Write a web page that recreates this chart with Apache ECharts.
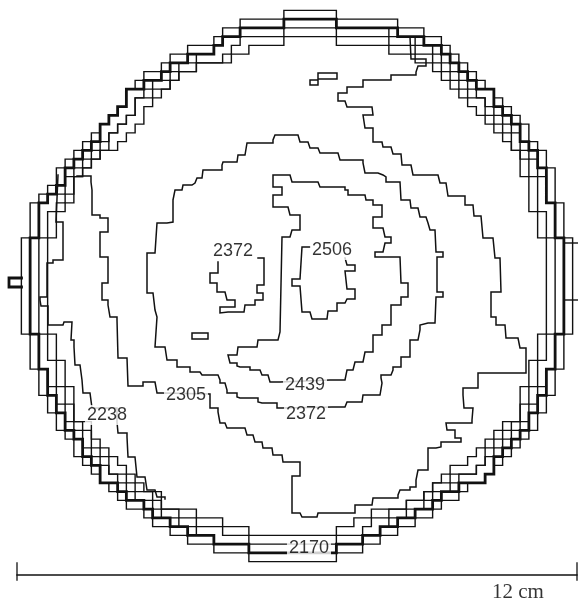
<!DOCTYPE html>
<html>
<head>
<meta charset="utf-8">
<script src="https://cdn.jsdelivr.net/npm/echarts@6/dist/echarts.min.js"></script>
<style>
  html, body { margin: 0; padding: 0; background: #fff; }
  #chart { width: 578px; height: 603px; }
</style>
</head>
<body>
<div id="chart"></div>
<script>
// ---- Map data (map units: the 12 cm scale bar spans 56 units) ----

// Contour levels drawn on the map
const levels = [2170, 2238, 2305, 2372, 2439, 2506];

// Rim of the field: half-widths (in detector cells) left / right of the centre, one entry per cell row, top row first
const rimLeft = [1.5, 6.5, 8.5, 9.5, 12.5, 14.5, 15.5, 17.5, 18.5, 19.5, 19.5, 20.5, 21.5, 22.5, 23.5, 24.5,
  25.5, 26.5, 27.5, 27.5, 28.5, 29.5, 30.5, 30.5, 30.5, 30.5, 31.5, 31.5, 31.5, 31.5, 31.5, 31.5,
  31.5, 31.5, 31.5, 31.5, 31.5, 30.5, 30.5, 30.5, 30.5, 29.5, 29.5, 29.5, 28.5, 28.5, 27.5, 27.5,
  26.5, 25.5, 25.5, 24.5, 23.5, 22.5, 21.5, 20.5, 19.5, 17.5, 16.5, 14.5, 12.5, 9.5, 5.5];
const rimRight = [4.5, 11.5, 14.5, 16.5, 17.5, 18.5, 19.5, 20.5, 21.5, 22.5, 23.5, 24.5, 25.5, 26.5, 26.5, 27.5,
  28.5, 28.5, 29.5, 29.5, 29.5, 29.5, 30.5, 30.5, 30.5, 30.5, 31.5, 31.5, 31.5, 31.5, 31.5, 31.5,
  31.5, 31.5, 31.5, 31.5, 31.5, 30.5, 30.5, 30.5, 30.5, 29.5, 29.5, 29.5, 28.5, 28.5, 27.5, 27.5,
  26.5, 25.5, 24.5, 23.5, 22.5, 21.5, 19.5, 18.5, 16.5, 15.5, 13.5, 11.5, 9.5, 7.5, 4.5];
// The rim contours, each the rim shrunk by this factor and laid back on the cell grid; the second is the 2170 contour
const rimScale = [1, 0.978, 0.956, 0.934, 0.912];
const rimLevel = [null, 2170, null, null, null];
// Small rim features
const rimNub = [[0.45, 27.8], [-0.8, 27.8], [-0.8, 28.7], [0.45, 28.7]];
const rimTicks = [[[54.8, 24.3], [56.1, 24.3]], [[54.8, 30.0], [56.1, 30.0]]];

// Interior contours, traced as vertex lists [x, y]
const contour2238 = [[4.1, 17.5], [3.9, 22.2], [4.6, 23.6], [4.6, 26.0], [3.6, 26.3], [3.0, 26.7], [3.0, 29.7],
  [2.3, 30.0], [2.4, 30.6], [3.1, 30.8], [3.1, 32.5], [4.6, 32.7], [4.7, 32.2], [5.5, 32.3], [5.4, 34.0],
  [5.7, 34.7], [5.8, 36.5], [6.3, 36.7], [6.5, 38.0], [6.6, 39.3], [7.3, 39.5], [7.5, 40.8], [10.0, 42.2],
  [10.1, 43.3], [11.0, 43.7], [11.1, 45.7], [11.8, 45.8], [12.0, 47.7], [12.8, 47.7], [13.0, 49.0],
  [13.8, 49.2], [14.0, 49.7], [14.8, 49.9]];

const contour2305 = [[6.0, 17.6], [7.4, 18.2], [7.5, 19.0], [7.5, 21.5], [8.3, 21.8], [9.1, 22.3], [9.1, 23.2],
  [8.3, 23.3], [8.3, 25.7], [9.1, 25.8], [9.1, 28.3], [8.5, 28.5], [8.5, 30.0], [9.1, 30.5], [9.3, 31.7],
  [10.0, 32.0], [10.1, 35.8], [11.0, 36.0], [11.1, 38.6], [12.6, 38.6], [12.6, 38.2], [13.8, 38.2],
  [14.0, 39.3], [14.5, 39.4],
  [19.3, 40.8], [20.1, 41.2], [20.3, 42.3], [20.8, 42.3], [21.0, 42.8], [22.8, 43.0], [23.0, 43.5],
  [23.6, 43.7], [23.8, 44.2], [24.5, 44.3], [24.6, 44.8], [25.5, 45.0], [25.6, 45.5], [26.5, 45.7],
  [26.6, 46.2], [28.3, 46.3], [28.3, 47.6], [27.5, 47.7], [27.5, 51.3], [28.3, 51.3], [28.5, 51.7],
  [30.0, 51.7], [30.1, 51.3], [33.8, 51.0], [33.8, 50.5], [35.5, 50.3], [35.6, 49.8], [36.1, 49.8],
  [38.1, 49.5], [38.3, 49.0], [39.3, 48.7], [39.9, 48.0], [40.1, 47.0], [41.1, 46.8], [41.1, 44.8],
  [41.9, 44.7], [42.4, 44.2], [44.4, 43.8], [43.8, 43.0], [43.0, 42.8], [42.9, 42.3], [45.5, 42.0],
  [45.6, 40.8], [44.7, 40.7], [44.6, 39.5], [44.6, 38.8], [46.1, 38.6], [46.1, 37.3], [50.9, 37.2],
  [50.9, 34.8], [50.3, 34.7], [50.1, 33.8], [48.9, 33.7], [48.8, 32.5], [47.9, 32.3], [47.9, 31.7],
  [47.4, 31.3], [47.4, 29.2], [48.4, 29.0], [48.3, 25.8], [47.8, 25.7], [47.6, 23.8], [46.6, 23.7],
  [46.4, 21.6], [45.7, 21.5], [45.6, 20.5], [44.8, 20.3], [44.8, 19.6], [43.1, 19.7], [42.9, 18.3],
  [42.3, 18.2], [42.1, 17.5], [39.6, 17.3], [39.4, 16.5], [38.5, 16.3], [38.4, 15.4], [37.6, 15.3],
  [37.4, 14.7], [36.6, 14.7], [36.5, 14.2], [35.6, 13.7], [35.6, 12.8], [34.8, 12.7], [34.6, 11.5],
  [35.6, 11.3], [35.5, 10.7], [33.0, 10.7], [32.8, 10.1], [32.1, 10.0], [32.1, 9.3], [33.0, 8.7],
  [34.6, 8.0], [36.1, 8.0], [37.4, 7.5], [39.9, 7.2], [40.1, 6.6], [40.9, 6.5], [40.9, 5.9], [39.4, 5.7],
  [39.3, 3.7]];

const contour2372 = [[15.6, 20.0], [15.8, 19.0], [16.5, 18.8], [16.6, 18.5], [17.5, 18.3], [17.8, 18.2],
  [18.0, 17.8], [18.5, 17.7], [18.6, 17.0], [20.5, 16.5], [20.6, 16.2], [22.0, 16.0], [22.1, 15.5],
  [22.8, 15.3], [23.0, 14.3], [25.6, 14.0], [25.8, 13.5], [28.1, 13.5], [28.3, 14.2], [29.1, 14.3],
  [29.3, 14.8], [30.1, 14.9], [30.3, 15.3], [32.1, 15.5], [32.3, 16.0], [34.6, 16.3], [34.8, 17.3],
  [36.1, 17.5], [36.6, 17.7], [36.9, 18.2], [38.3, 18.3], [38.4, 20.0], [39.3, 20.2], [39.4, 20.8],
  [40.1, 21.0], [40.3, 21.7], [40.9, 21.7], [41.1, 22.3], [41.3, 23.0], [41.8, 23.2], [41.9, 25.2],
  [42.6, 25.2], [42.6, 25.7], [42.0, 25.8], [42.0, 29.2], [42.6, 29.3], [42.6, 29.7], [41.9, 29.8],
  [41.8, 32.3], [41.1, 32.5], [40.3, 33.0], [40.1, 34.0], [39.3, 34.3], [39.3, 35.7], [38.4, 36.0],
  [38.4, 36.7], [37.6, 37.0], [37.4, 37.5], [36.4, 37.8], [36.5, 38.3], [36.3, 39.5], [34.6, 39.5],
  [34.5, 40.2], [33.0, 40.3], [32.8, 40.7], [31.5, 40.8], [26.5, 40.8], [26.0, 40.3], [24.5, 40.2],
  [24.1, 39.8], [22.3, 39.7], [22.0, 39.3], [21.0, 39.0], [20.8, 38.3], [20.3, 38.0], [20.1, 37.5],
  [18.5, 37.5], [18.3, 37.2], [17.3, 36.7], [16.5, 36.7], [16.0, 36.0], [15.0, 35.8], [14.8, 34.7],
  [13.8, 34.5], [14.0, 31.7], [13.8, 31.0], [13.6, 29.3], [13.0, 25.3], [13.8, 25.2], [14.0, 22.3],
  [15.0, 22.2], [15.6, 20.0]];

const contour2439 = [[25.6, 17.5], [27.3, 17.5], [27.5, 18.2], [30.1, 18.3], [30.3, 18.7], [32.8, 19.0],
  [33.1, 19.5], [34.8, 19.6], [34.9, 20.0], [35.6, 20.1], [35.6, 20.5], [36.5, 20.5], [36.5, 21.7],
  [35.6, 21.8], [35.6, 22.8], [36.6, 23.0], [36.8, 23.7], [37.4, 23.8], [37.4, 24.3], [36.8, 24.5],
  [36.6, 25.2], [35.8, 25.2], [35.8, 25.7], [38.3, 25.7], [38.4, 28.3], [39.1, 28.5], [39.1, 29.7],
  [38.4, 29.8], [38.4, 30.5], [37.4, 30.7], [37.4, 32.5], [36.5, 32.7], [36.5, 33.5], [35.6, 33.7],
  [35.6, 35.2], [34.8, 35.3], [34.6, 36.2], [33.8, 36.3], [33.6, 37.0], [33.0, 37.2], [32.8, 38.0],
  [31.3, 38.2], [26.3, 38.2], [25.3, 38.0], [25.1, 37.5], [24.5, 37.3], [24.3, 37.0], [23.3, 36.7],
  [22.3, 36.6], [22.0, 36.3], [21.3, 36.2], [21.1, 35.5], [22.0, 35.3], [22.1, 34.7], [24.0, 34.5],
  [24.1, 34.0], [26.1, 33.8], [26.3, 33.2], [26.5, 23.7], [27.3, 23.5], [27.5, 23.0], [28.3, 22.8],
  [28.3, 21.5], [27.3, 21.3], [27.1, 20.7], [25.6, 20.6], [25.6, 19.5], [26.5, 19.4], [26.5, 18.7],
  [25.6, 18.6], [25.6, 17.5]];

const contour2506 = [[32.8, 25.8], [33.0, 26.5], [33.8, 26.6], [33.8, 27.1], [32.8, 27.2], [33.0, 28.9],
  [33.8, 29.0], [33.8, 29.9], [33.0, 30.0], [32.8, 30.3], [32.0, 30.5], [32.0, 31.1], [31.1, 31.2],
  [31.0, 31.9], [29.5, 31.8], [29.3, 31.2], [28.5, 31.0], [28.3, 28.6], [27.5, 28.5], [27.5, 27.9],
  [28.3, 27.8], [28.5, 24.7], [29.3, 24.7]];

const contour2372b = [[24.1, 25.8], [24.7, 25.8], [24.7, 28.5], [24.0, 28.7], [24.0, 29.3], [24.6, 29.4],
  [24.6, 30.0], [23.8, 30.2], [23.8, 30.5], [22.8, 30.6], [22.7, 31.2], [21.1, 31.3], [20.3, 31.0],
  [20.3, 30.7], [21.8, 30.5], [21.8, 30.0], [21.0, 29.8], [20.8, 29.2], [20.0, 29.0], [20.0, 28.3],
  [19.3, 28.3], [19.3, 27.3], [20.1, 27.2], [20.1, 26.2]];

// Small closed patches
const patches = [
  [[17.5, 33.3], [19.1, 33.3], [19.1, 33.9], [17.5, 33.9], [17.5, 33.3]],
  [[29.3, 8.0], [29.3, 8.5], [30.1, 8.5], [30.1, 7.9], [32.0, 7.9], [32.0, 7.3], [30.1, 7.3], [30.1, 8.0], [29.3, 8.0]]
];

// Contour labels: level and the point on its contour where it is written
const contourLabels = [
  { level: 2170, at: [29.2, 54.8] },
  { level: 2238, at: [9.0, 41.5] },
  { level: 2305, at: [16.9, 39.5] },
  { level: 2372, at: [28.9, 41.4] },
  { level: 2439, at: [28.8, 38.5] },
  { level: 2372, at: [21.6, 25.1] },
  { level: 2506, at: [31.5, 25.0] }
];

// Scale bar
const scaleBarCm = 12;
const scaleBarText = '12 cm';

// ---- Layout ----
const UNITS_PER_CM = 56 / 12;
const CELL = 0.875;              // one detector cell in map units
const CENTER = [28.0, 28.6];     // field centre in map units
const BAR_Y = 57.5, BAR_TICK = [56.3, 58.0];
const BAR_TEXT_AT = [50.1, 59.2];

// Cell edges sit at half-integer offsets from the centre
const snapToCell = h => Math.round(h - 0.5) + 0.5;

// Rows of a rim contour shrunk by s, resampled on the cell grid
function ringRows(s) {
  const n = rimLeft.length, top = -n / 2, rows = [];
  for (let i = 0; i < n; i++) {
    const j = Math.floor((top + i + 0.5) / s - top);
    if (j < 0 || j >= n) continue;
    rows.push({ y0: top + i, L: snapToCell(s * rimLeft[j]), R: snapToCell(s * rimRight[j]) });
  }
  return rows;
}

// Staircase outline around a set of cell rows
function rowsOutline(rows) {
  const m = rows.length;
  const pts = [[-rows[0].L, rows[0].y0], [rows[0].R, rows[0].y0]];
  for (let i = 0; i < m; i++) {
    const yb = rows[i].y0 + 1;
    pts.push([rows[i].R, yb]);
    if (i + 1 < m) pts.push([rows[i + 1].R, yb]);
  }
  pts.push([-rows[m - 1].L, rows[m - 1].y0 + 1]);
  for (let i = m - 1; i >= 0; i--) {
    pts.push([-rows[i].L, rows[i].y0]);
    if (i - 1 >= 0) pts.push([-rows[i - 1].L, rows[i].y0]);
  }
  return pts.map(([x, y]) => [CENTER[0] + x * CELL, CENTER[1] + y * CELL]);
}

const INK = '#111';
function lineSeries(data, width, step, z) {
  return {
    type: 'line', data: data, showSymbol: false, symbol: 'none', silent: true,
    step: step || false, clip: false, z: z || 2,
    lineStyle: { color: INK, width: width, join: 'miter', cap: 'square' }
  };
}

const series = [];
rimScale.forEach((s, k) => {
  const bold = rimLevel[k] === 2170;
  series.push(lineSeries(rowsOutline(ringRows(s)), bold ? 2.8 : 1.4, false, bold ? 3 : 2));
});
series.push(lineSeries(rimNub, 2.8, false, 3));
rimTicks.forEach(t => series.push(lineSeries(t, 1.4, false)));
[contour2238, contour2305, contour2372, contour2439, contour2506, contour2372b].forEach(c => {
  series.push(lineSeries(c, 1.5, 'end'));
});
patches.forEach(p => series.push(lineSeries(p, 1.5, 'end')));

// Scale bar
const barEnd = scaleBarCm * UNITS_PER_CM;
series.push(lineSeries([[0, BAR_Y], [barEnd, BAR_Y]], 1.3, false));
series.push(lineSeries([[0, BAR_TICK[0]], [0, BAR_TICK[1]]], 1.3, false));
series.push(lineSeries([[barEnd, BAR_TICK[0]], [barEnd, BAR_TICK[1]]], 1.3, false));

// Contour value labels
series.push({
  type: 'scatter', silent: true, symbolSize: 0, z: 10, clip: false,
  data: contourLabels.map(l => ({ value: [l.at[0], l.at[1]], name: String(l.level) })),
  label: {
    show: true, position: 'inside', formatter: p => p.name,
    fontFamily: '"Liberation Sans", Arial, sans-serif', fontSize: 18, color: '#000',
    backgroundColor: '#fff', padding: [1, 2]
  }
});
series.push({
  type: 'scatter', silent: true, symbolSize: 0, z: 10, clip: false,
  data: [{ value: BAR_TEXT_AT, name: scaleBarText }],
  label: {
    show: true, position: 'inside', formatter: p => p.name,
    fontFamily: '"Liberation Serif", "Times New Roman", serif', fontSize: 21, color: '#000'
  }
});

const chart = echarts.init(document.getElementById('chart'), null, { renderer: 'canvas' });
chart.setOption({
  animation: false,
  backgroundColor: '#fff',
  grid: { left: 0, right: 0, top: 0, bottom: 0 },
  xAxis: { type: 'value', min: -1.7, max: 56.1, show: false },
  yAxis: { type: 'value', min: 0, max: 60.3, inverse: true, show: false },
  series: series
});
</script>
</body>
</html>
